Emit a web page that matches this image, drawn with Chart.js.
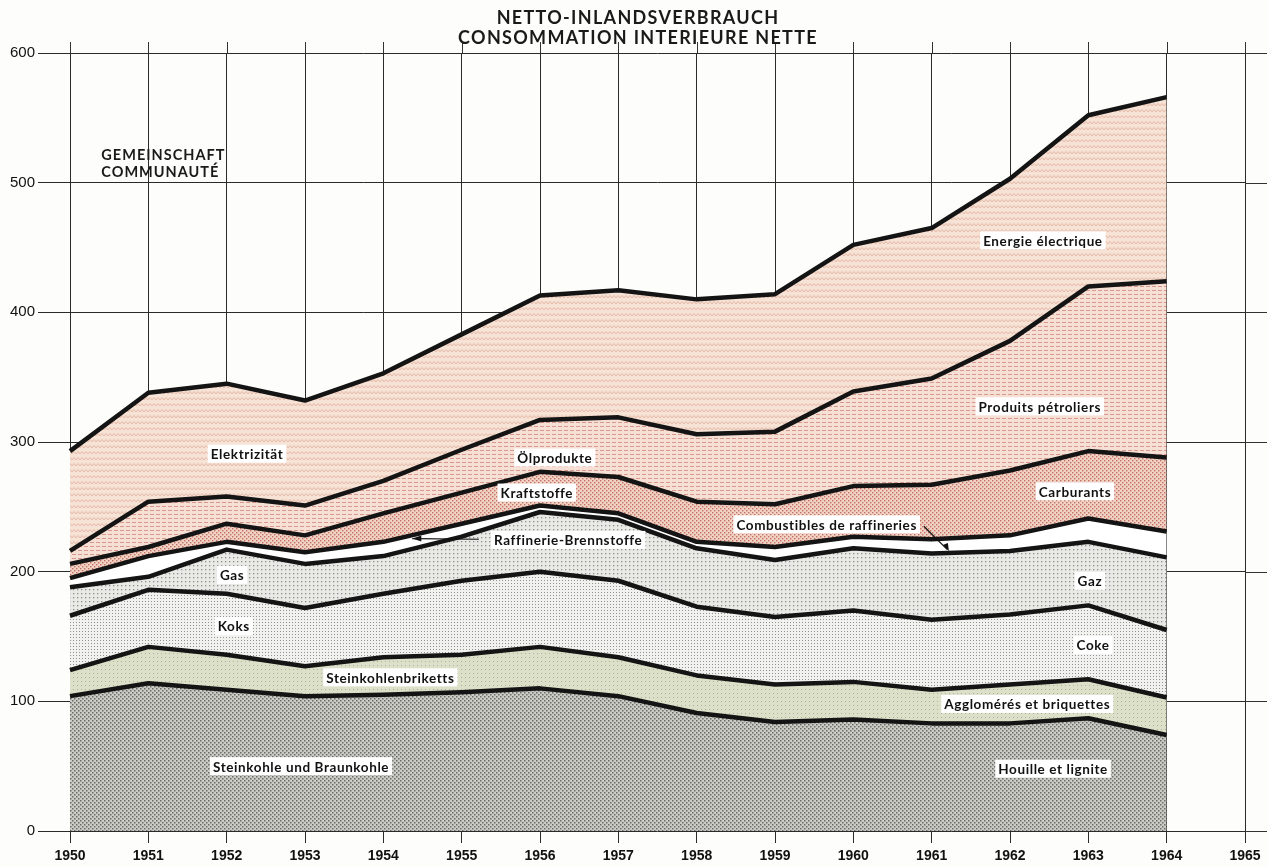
<!DOCTYPE html>
<html>
<head>
<meta charset="utf-8">
<script src="https://cdn.jsdelivr.net/npm/chart.js@4.4.1/dist/chart.umd.min.js"></script>
<style>
  html, body { margin: 0; padding: 0; background: #fdfdfb; }
  #wrap { width: 1268px; height: 867px; position: relative; }
</style>
</head>
<body>
<div id="wrap"><canvas id="energy-chart" width="1268" height="867"></canvas></div>
<script>
// years on the x axis (1965 is only a grid line, no data)
const years = ["1950","1951","1952","1953","1954","1955","1956","1957","1958","1959","1960","1961","1962","1963","1964","1965"];
const yTicks = [0, 100, 200, 300, 400, 500, 600];

// layer thicknesses (stacked from the bottom up)
const steinkohle   = [104,114,109,104,105,107,110,104, 91, 84, 86, 83, 83, 87, 74];
const briketts     = [ 20, 28, 27, 23, 29, 29, 32, 30, 29, 29, 29, 26, 30, 30, 29];
const koks         = [ 42, 44, 47, 45, 49, 57, 58, 59, 53, 52, 55, 54, 54, 57, 52];
const gas          = [ 22, 10, 34, 34, 29, 34, 46, 47, 45, 44, 48, 51, 49, 49, 56];
const raffinerie   = [  7, 16,  6,  9, 11, 10,  5,  5,  5, 10,  9, 11, 12, 18, 20];
const kraftstoffe  = [ 11,  7, 14, 13, 22, 24, 26, 28, 31, 33, 39, 42, 50, 52, 57];
const oelprodukte  = [ 10, 35, 21, 23, 25, 33, 40, 46, 52, 56, 73, 82,100,127,136];
const elektrizitaet= [ 77, 84, 87, 81, 83, 89, 96, 98,104,106,113,116,125,132,142];

function makePattern(w, h, bg, draw){
    const c = document.createElement("canvas");
    c.width = w; c.height = h;
    const ctx = c.getContext("2d");
    ctx.fillStyle = bg;
    ctx.fillRect(0, 0, w, h);
    draw(ctx);
    return ctx.createPattern(c, "repeat");
}

const patElek = makePattern(8, 6, "#f7e3d6", function(ctx){
    ctx.strokeStyle = "#dfae9c";
    ctx.lineWidth = 0.8;
    ctx.beginPath();
    ctx.moveTo(0, 4); ctx.lineTo(2, 1.5); ctx.lineTo(4, 4); ctx.lineTo(6, 1.5); ctx.lineTo(8, 4);
    ctx.stroke();
});
const patOel = makePattern(6, 4, "#f6e0d5", function(ctx){
    ctx.fillStyle = "#d9998a";
    ctx.fillRect(0, 2, 4, 1);
});
const patKraft = makePattern(4, 4, "#f0d2c7", function(ctx){
    ctx.fillStyle = "#c4705f";
    ctx.fillRect(0, 0, 1.4, 1.4);
    ctx.fillRect(2, 2, 1.4, 1.4);
});
const patGas = makePattern(4, 4, "#e9e9e6", function(ctx){
    ctx.fillStyle = "#8e8e8c";
    ctx.fillRect(1, 1, 1.3, 1.3);
});
const patKoks = makePattern(3, 3, "#f1f1ef", function(ctx){
    ctx.fillStyle = "#929290";
    ctx.fillRect(1, 1, 1, 1);
});
const patBrik = makePattern(4, 4, "#dde0c8", function(ctx){
    ctx.fillStyle = "#aeb199";
    ctx.fillRect(1, 1, 1, 1);
});
const patKohle = makePattern(4, 4, "#cbcbc6", function(ctx){
    ctx.fillStyle = "#6a6a66";
    ctx.fillRect(0, 0, 1.5, 1.5);
    ctx.fillRect(2, 2, 1.5, 1.5);
});

const layers = [
    { label: "Steinkohle", data: steinkohle, bg: patKohle },
    { label: "Steinkohlenbriketts", data: briketts, bg: patBrik },
    { label: "Koks", data: koks, bg: patKoks },
    { label: "Gas", data: gas, bg: patGas },
    { label: "Raffinerie-Brennstoffe", data: raffinerie, bg: "#ffffff" },
    { label: "Kraftstoffe", data: kraftstoffe, bg: patKraft },
    { label: "Ölprodukte", data: oelprodukte, bg: patOel },
    { label: "Elektrizität", data: elektrizitaet, bg: patElek }
];

// text labels placed in data space: x = year, y = value
const areaLabels = [
    { text: "Elektrizität", x: 1952.26, y: 291 },
    { text: "Ölprodukte", x: 1956.19, y: 288 },
    { text: "Kraftstoffe", x: 1955.96, y: 261 },
    { text: "Raffinerie-Brennstoffe", x: 1956.36, y: 224.5 },
    { text: "Gas", x: 1952.07, y: 197.5 },
    { text: "Koks", x: 1952.09, y: 158 },
    { text: "Steinkohlenbriketts", x: 1954.09, y: 118.5 },
    { text: "Steinkohle und Braunkohle", x: 1952.95, y: 50 },
    { text: "Energie électrique", x: 1962.42, y: 455.5 },
    { text: "Produits pétroliers", x: 1962.38, y: 327.5 },
    { text: "Carburants", x: 1962.83, y: 262 },
    { text: "Combustibles de raffineries", x: 1959.66, y: 236.5 },
    { text: "Gaz", x: 1963.02, y: 193 },
    { text: "Coke", x: 1963.06, y: 143.5 },
    { text: "Agglomérés et briquettes", x: 1962.22, y: 98 },
    { text: "Houille et lignite", x: 1962.55, y: 48 }
];

const labelFont = "bold 13.5px Lato";

const decorPlugin = {
    id: "decor",
    afterDraw(chart){
        const ctx = chart.ctx;
        const xs = chart.scales.x;
        const ys = chart.scales.y;
        const area = chart.chartArea;
        const px = function(year){ return xs.getPixelForValue(year - 1950); };

        ctx.save();
        // grid extensions above the top line and to the right
        ctx.strokeStyle = "#333";
        ctx.lineWidth = 1;
        ctx.beginPath();
        for(let i = 0; i < years.length; i += 1){
            const x = Math.round(xs.getPixelForValue(i)) + 0.5;
            ctx.moveTo(x, area.top - 11);
            ctx.lineTo(x, area.top);
        }
        yTicks.forEach(function(v){
            const y = Math.round(ys.getPixelForValue(v)) + 0.5;
            ctx.moveTo(area.right, y);
            ctx.lineTo(area.right + 22, y);
        });
        ctx.stroke();

        // arrows for the two thin white bands
        ctx.strokeStyle = "#111";
        ctx.fillStyle = "#111";
        ctx.lineWidth = 1.2;
        ctx.beginPath();
        ctx.moveTo(px(1955.22), ys.getPixelForValue(225));
        ctx.lineTo(px(1954.37), ys.getPixelForValue(225.5));
        ctx.stroke();
        ctx.beginPath();
        ctx.moveTo(px(1954.37), ys.getPixelForValue(225.5));
        ctx.lineTo(px(1954.37) + 9, ys.getPixelForValue(225.5) - 3);
        ctx.lineTo(px(1954.37) + 9, ys.getPixelForValue(225.5) + 3);
        ctx.closePath();
        ctx.fill();
        ctx.beginPath();
        ctx.moveTo(px(1960.9), ys.getPixelForValue(235));
        ctx.lineTo(px(1961.2), ys.getPixelForValue(217));
        ctx.stroke();
        ctx.beginPath();
        ctx.moveTo(px(1961.22), ys.getPixelForValue(216));
        ctx.lineTo(px(1961.22) - 6, ys.getPixelForValue(216) - 6);
        ctx.lineTo(px(1961.22) - 1, ys.getPixelForValue(216) - 8);
        ctx.closePath();
        ctx.fill();

        // area labels on white boxes
        ctx.font = labelFont;
        ctx.letterSpacing = "0.6px";
        ctx.textAlign = "center";
        ctx.textBaseline = "middle";
        areaLabels.forEach(function(l){
            const x = px(l.x);
            const y = ys.getPixelForValue(l.y);
            const w = ctx.measureText(l.text).width;
            ctx.fillStyle = "#ffffff";
            ctx.fillRect(x - w / 2 - 3, y - 9, w + 6, 18);
            ctx.fillStyle = "#111";
            ctx.fillText(l.text, x, y + 1);
        });

        // region caption
        ctx.textAlign = "left";
        ctx.font = "bold 14.5px Lato";
        ctx.letterSpacing = "1px";
        ctx.fillStyle = "#1a1a1a";
        ctx.fillText("GEMEINSCHAFT", px(1950.4), ys.getPixelForValue(521));
        ctx.fillText("COMMUNAUTÉ", px(1950.4), ys.getPixelForValue(508));

        // title
        ctx.textAlign = "center";
        ctx.font = "bold 18px Lato";
        ctx.letterSpacing = "1.3px";
        ctx.fillText("NETTO-INLANDSVERBRAUCH", 638, 18);
        ctx.fillText("CONSOMMATION INTERIEURE NETTE", 638, 38);
        ctx.restore();
    }
};

const ctxChart = document.getElementById("energy-chart");

new Chart(ctxChart, {
    type: "line",
    data: {
        labels: years,
        datasets: layers.map(function(layer, i){
            return {
                label: layer.label,
                data: layer.data,
                backgroundColor: layer.bg,
                borderColor: "#141414",
                borderWidth: 4.5,
                borderJoinStyle: "round",
                pointRadius: 0,
                tension: 0,
                fill: i === 0 ? "origin" : "-1"
            };
        })
    },
    options: {
        responsive: false,
        animation: false,
        layout: { padding: { top: 53, right: 23, left: 0, bottom: 0 } },
        plugins: {
            legend: { display: false },
            tooltip: { enabled: false },
            filler: { propagate: false, drawTime: "beforeDatasetsDraw" }
        },
        scales: {
            x: {
                z: 1,
                offset: false,
                grid: { offset: false, color: "#2a2a2a", lineWidth: 1, tickLength: 12, drawTicks: true },
                border: { display: false },
                ticks: {
                    autoSkip: false,
                    maxRotation: 0,
                    padding: 5,
                    color: "#111",
                    font: { family: "Liberation Sans", weight: "bold", size: 14 }
                },
                afterFit(scale){ scale.height = 36; }
            },
            y: {
                z: 1,
                stacked: true,
                min: 0,
                max: 600,
                grid: { color: "#2a2a2a", lineWidth: 1, tickLength: 32 },
                border: { display: false },
                ticks: {
                    stepSize: 100,
                    padding: 3,
                    color: "#111",
                    font: { family: "Liberation Sans", size: 15 }
                },
                afterFit(scale){ scale.width = 70; }
            }
        }
    },
    plugins: [decorPlugin]
});
</script>
</body>
</html>
